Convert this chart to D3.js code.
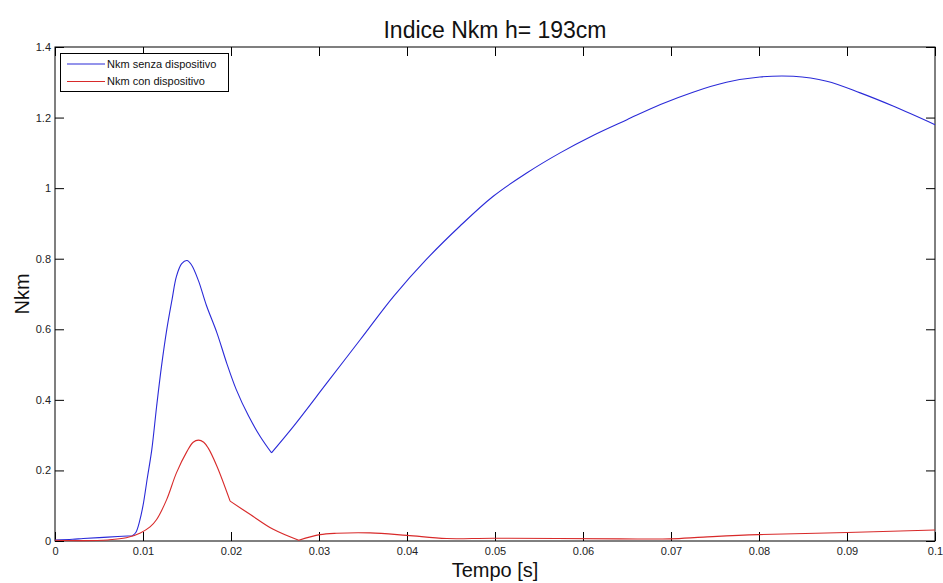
<!DOCTYPE html>
<html>
<head>
<meta charset="utf-8">
<script src="https://cdn.jsdelivr.net/npm/d3@7"></script>
<style>
  html, body { margin: 0; padding: 0; background: #ffffff; }
  svg { display: block; font-family: "Liberation Sans", Arial, sans-serif; }
</style>
</head>
<body>
<svg id="chart" width="943" height="583"></svg>
<script>
// Time axis (s) and Nkm values for the two configurations
const tSenza = [0, 0.002, 0.0032, 0.006, 0.0088, 0.0092, 0.0096, 0.0100, 0.0105, 0.0110,
  0.01155, 0.0121, 0.0127, 0.0133, 0.0138, 0.0144, 0.0150, 0.0155, 0.0163, 0.0172,
  0.0184, 0.0195, 0.0206, 0.0220, 0.0233, 0.0246, 0.0271, 0.0309, 0.0347, 0.0385,
  0.0422, 0.0460, 0.0498, 0.0536, 0.0574, 0.0612, 0.0650, 0.0688, 0.0725, 0.0763,
  0.0801, 0.0839, 0.0877, 0.0915, 0.0953, 0.1];
const nkmSenza = [0.003, 0.005, 0.007, 0.011, 0.015, 0.025, 0.055, 0.10, 0.18, 0.259,
  0.382, 0.495, 0.599, 0.684, 0.750, 0.786, 0.795, 0.783, 0.738, 0.668,
  0.590, 0.505, 0.429, 0.354, 0.297, 0.250, 0.325, 0.448, 0.571, 0.694,
  0.798, 0.892, 0.977, 1.043, 1.100, 1.150, 1.194, 1.237, 1.272, 1.300,
  1.315, 1.317, 1.303, 1.270, 1.232, 1.180];
// Times where the blue curve has a sharp corner
const kinksSenza = [0.0088, 0.0246];

const tCon = [0, 0.003, 0.006, 0.0081, 0.0097, 0.0108, 0.01155, 0.0127, 0.0138, 0.0150,
  0.0157, 0.0163, 0.0169, 0.0174, 0.0184, 0.0199, 0.0222, 0.0248, 0.0277, 0.0301,
  0.0320, 0.0358, 0.0400, 0.0445, 0.0498, 0.0642, 0.0699, 0.0737, 0.0799, 0.0900, 0.1];
const nkmCon = [0.002, 0.001, 0.003, 0.009, 0.023, 0.040, 0.061, 0.118, 0.193, 0.254,
  0.280, 0.286, 0.280, 0.264, 0.212, 0.113, 0.075, 0.033, 0.002, 0.018,
  0.022, 0.023, 0.016, 0.007, 0.008, 0.006, 0.006, 0.011, 0.018, 0.024, 0.031];
// Times where the red curve has a sharp corner
const kinksCon = [0.0199, 0.0277];

const xTicks = [0, 0.01, 0.02, 0.03, 0.04, 0.05, 0.06, 0.07, 0.08, 0.09, 0.1];
const xTickLabels = ["0", "0.01", "0.02", "0.03", "0.04", "0.05", "0.06", "0.07", "0.08", "0.09", "0.1"];
const yTicks = [0, 0.2, 0.4, 0.6, 0.8, 1, 1.2, 1.4];
const yTickLabels = ["0", "0.2", "0.4", "0.6", "0.8", "1", "1.2", "1.4"];

const seriesNames = ["Nkm senza dispositivo", "Nkm con dispositivo"];
const seriesColors = ["#2a2ad8", "#d82a2a"];

const svg = d3.select("#chart");
const plotLeft = 55, plotRight = 935, plotTop = 47, plotBottom = 541;

const x = d3.scaleLinear().domain([0, 0.1]).range([plotLeft, plotRight]);
const y = d3.scaleLinear().domain([0, 1.4]).range([plotBottom, plotTop]);

svg.append("rect").attr("width", 943).attr("height", 583).attr("fill", "#ffffff");

// Axes with inward ticks on all four sides
const tick = 9;
const gB = svg.append("g").attr("transform", `translate(0,${plotBottom})`)
  .call(d3.axisBottom(x).tickValues(xTicks).tickFormat((d, i) => xTickLabels[i])
    .tickSize(-tick).tickSizeOuter(0).tickPadding(6));
const gT = svg.append("g").attr("transform", `translate(0,${plotTop})`)
  .call(d3.axisTop(x).tickValues(xTicks).tickFormat("").tickSize(-tick).tickSizeOuter(0));
const gL = svg.append("g").attr("transform", `translate(${plotLeft},0)`)
  .call(d3.axisLeft(y).tickValues(yTicks).tickFormat((d, i) => yTickLabels[i])
    .tickSize(-tick).tickSizeOuter(0).tickPadding(4));
const gR = svg.append("g").attr("transform", `translate(${plotRight},0)`)
  .call(d3.axisRight(y).tickValues(yTicks).tickFormat("").tickSize(-tick).tickSizeOuter(0));

[gB, gT, gL, gR].forEach(g => {
  g.select(".domain").remove();
  g.selectAll(".tick line").attr("stroke", "#000").attr("stroke-width", 1);
  g.selectAll(".tick text").attr("fill", "#222").style("font-size", "11px")
    .style("font-family", "'Liberation Sans', Arial, sans-serif");
});

// Plot box
svg.append("rect")
  .attr("x", plotLeft).attr("y", plotTop)
  .attr("width", plotRight - plotLeft).attr("height", plotBottom - plotTop)
  .attr("fill", "none").attr("stroke", "#000").attr("stroke-width", 1);

// Smooth curve pieces, broken at the corner points so the corners stay sharp
const line = d3.line().x(d => x(d[0])).y(d => y(d[1])).curve(d3.curveCatmullRom.alpha(0.5));
function pieces(ts, vs, kinks) {
  const out = [];
  let cur = [];
  ts.forEach((t, i) => {
    cur.push([t, vs[i]]);
    if (kinks.includes(t)) { out.push(cur); cur = [[t, vs[i]]]; }
  });
  if (cur.length > 1) out.push(cur);
  return out;
}

[[tSenza, nkmSenza, kinksSenza], [tCon, nkmCon, kinksCon]].forEach(([ts, vs, ks], s) => {
  const d = pieces(ts, vs, ks).map(p => line(p)).join("");
  svg.append("path").attr("d", d)
    .attr("fill", "none").attr("stroke", seriesColors[s]).attr("stroke-width", 1.1)
    .attr("stroke-linejoin", "round");
});

// Legend
const lg = svg.append("g");
lg.append("rect").attr("x", 60.5).attr("y", 53.5).attr("width", 168).attr("height", 38)
  .attr("fill", "#fff").attr("stroke", "#000").attr("stroke-width", 1);
seriesNames.forEach((name, i) => {
  const yy = 64 + i * 17.5;
  lg.append("line").attr("x1", 67).attr("x2", 105).attr("y1", yy).attr("y2", yy)
    .attr("stroke", seriesColors[i]).attr("stroke-width", 1.1);
  lg.append("text").attr("x", 107).attr("y", yy).attr("dy", "0.35em")
    .style("font-size", "11px").attr("fill", "#111").text(name);
});

// Title and axis labels
svg.append("text").attr("x", (plotLeft + plotRight) / 2).attr("y", 38)
  .attr("text-anchor", "middle").style("font-size", "23px").attr("fill", "#111")
  .text("Indice Nkm h= 193cm");
svg.append("text").attr("x", (plotLeft + plotRight) / 2).attr("y", 577)
  .attr("text-anchor", "middle").style("font-size", "20px").attr("fill", "#111")
  .text("Tempo [s]");
svg.append("text").attr("transform", `translate(29,${(plotTop + plotBottom) / 2}) rotate(-90)`)
  .attr("text-anchor", "middle").style("font-size", "20px").attr("fill", "#111")
  .text("Nkm");
</script>
</body>
</html>
